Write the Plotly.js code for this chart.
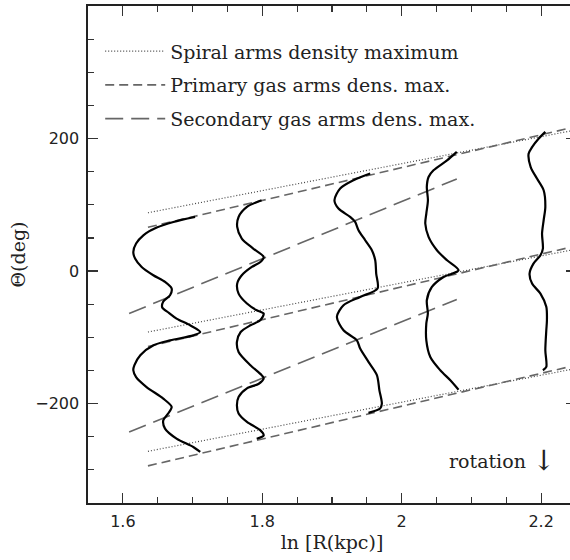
<!DOCTYPE html>
<html>
<head>
<meta charset="utf-8">
<script src="https://cdn.plot.ly/plotly-3.0.1.min.js"></script>
<style>html,body{margin:0;padding:0;overflow:hidden;background:#fff;width:570px;height:560px;}</style>
</head>
<body>
<div id="chart"></div>
<script>
// ---- data (ln R in kpc, theta in degrees) ----
// Spiral arms density maximum (dotted)
const spiralLnR = [1.636, 2.25];
const spiralArm1 = [88, 213];
const spiralArm2 = [-92, 33];
const spiralArm3 = [-272, -147];
// Primary gas arms density maximum (short dashed)
const primaryLnR = [1.636, 2.25];
const primaryArm1 = [66, 218];
const primaryArm2 = [-114, 38];
const primaryArm3 = [-294, -142];
// Secondary gas arms density maximum (long dashed)
const secondaryLnR = [1.609, 2.079];
const secondaryArm1 = [-64, 139];
const secondaryArm2 = [-243, -43];

// Gas density profiles (theta, lnR)
const prof1Theta = [81.7, 74.1, 65.6, 54, 41.5, 28.9, 18.9, 6.2, -6.3, -16.4, -26.4, -36.5, -46, -55, -63, -71.7, -81.8, -92, -97, -104.5, -112, -127, -142, -149.7, -160, -175, -192.5, -205, -215, -225, -237.7, -252.8, -265.5, -273];
const prof1LnR   = [1.7036, 1.6725, 1.6486, 1.6294, 1.619, 1.615, 1.6175, 1.627, 1.6437, 1.6605, 1.670, 1.6677, 1.658, 1.6565, 1.666, 1.677, 1.6964, 1.711, 1.701, 1.668, 1.644, 1.625, 1.6166, 1.615, 1.619, 1.634, 1.658, 1.670, 1.665, 1.658, 1.6605, 1.677, 1.701, 1.711];
const prof2Theta = [106.9, 96.8, 81.7, 66.6, 49, 34, 21.3, 13.7, 6.2, -6.3, -18.9, -34, -49, -59.2, -64.2, -74.3, -81.8, -92, -107, -122, -142, -157, -162, -170, -177, -190, -202.6, -215, -227.7, -240, -248, -253];
const prof2LnR   = [1.799, 1.778, 1.766, 1.764, 1.7706, 1.787, 1.802, 1.7973, 1.785, 1.7706, 1.764, 1.766, 1.778, 1.792, 1.802, 1.797, 1.783, 1.769, 1.7636, 1.766, 1.783, 1.799, 1.802, 1.795, 1.778, 1.766, 1.7636, 1.766, 1.778, 1.797, 1.802, 1.792];
const prof3Theta = [147.2, 137, 124.5, 106.9, 94.3, 81.7, 74.1, 61.6, 46.5, 31.4, 16.3, -3.8, -26.4, -39, -51.6, -69.3, -89.4, -104.5, -117, -137, -157, -180, -200, -207.5, -214];
const prof3LnR   = [1.9548, 1.9308, 1.9117, 1.9035, 1.9093, 1.926, 1.9332, 1.938, 1.9476, 1.9572, 1.962, 1.9634, 1.9653, 1.9404, 1.9165, 1.907, 1.9165, 1.9357, 1.9404, 1.9523, 1.9644, 1.968, 1.9715, 1.969, 1.9523];
const prof4Theta = [179.8, 167, 152, 142, 127, 106.9, 86.8, 71.7, 51.5, 31.4, 16.3, 1.2, -8.9, -24, -44, -64, -79, -104.5, -129.7, -149.7, -164.8, -179];
const prof4LnR   = [2.079, 2.065, 2.0456, 2.0385, 2.036, 2.0376, 2.0353, 2.0338, 2.0385, 2.0505, 2.065, 2.0815, 2.06, 2.0433, 2.036, 2.0375, 2.0353, 2.0353, 2.041, 2.0553, 2.0697, 2.0815];
const prof5Theta = [210, 200, 187, 177, 157, 139.6, 122, 96.8, 76.7, 56.6, 34, 23.8, 11.3, -3.8, -18.9, -34, -54, -74.3, -89.4, -119.5, -144.7, -149.7];
const prof5LnR   = [2.206, 2.1966, 2.187, 2.182, 2.185, 2.194, 2.2036, 2.206, 2.2036, 2.2013, 2.2025, 2.199, 2.189, 2.1834, 2.187, 2.199, 2.2074, 2.2083, 2.2074, 2.206, 2.2074, 2.2025];

const legendNames = ['Spiral arms density maximum', 'Primary gas arms dens. max.', 'Secondary gas arms dens. max.'];
const xTickVals = [1.6, 1.8, 2, 2.2];
const yTickVals = [-200, 0, 200];

// ---- helpers ----
function joinLines(xs, ys) {
  const X = [], Y = [];
  ys.forEach((y, i) => {
    if (i > 0) { X.push(null); Y.push(null); }
    X.push(...xs); Y.push(...y);
  });
  return {X, Y};
}
const sp = joinLines(spiralLnR, [spiralArm1, spiralArm2, spiralArm3]);
const pr = joinLines(primaryLnR, [primaryArm1, primaryArm2, primaryArm3]);
const se = joinLines(secondaryLnR, [secondaryArm1, secondaryArm2]);

const serif = 'DejaVu Serif, serif';
const traces = [
  {x: sp.X, y: sp.Y, mode: 'lines', name: legendNames[0], legendgroup: 'a', connectgaps: false,
   line: {color: '#444', width: 1.2, dash: '1px,2px'}, hoverinfo: 'skip'},
  {x: pr.X, y: pr.Y, mode: 'lines', name: legendNames[1], legendgroup: 'b', connectgaps: false,
   line: {color: '#666', width: 1.6, dash: '9px,5px'}, hoverinfo: 'skip'},
  {x: se.X, y: se.Y, mode: 'lines', name: legendNames[2], legendgroup: 'c', connectgaps: false,
   line: {color: '#666', width: 1.6, dash: '18px,8px'}, hoverinfo: 'skip'}
];
[[prof1LnR, prof1Theta], [prof2LnR, prof2Theta], [prof3LnR, prof3Theta], [prof4LnR, prof4Theta], [prof5LnR, prof5Theta]].forEach(p => {
  traces.push({x: p[0], y: p[1], mode: 'lines', showlegend: false,
    line: {color: '#000', width: 2.2, shape: 'spline', smoothing: 0.8}, hoverinfo: 'skip'});
});

const axisCommon = {
  showline: true, linecolor: '#222', linewidth: 1.6, mirror: 'ticks',
  ticks: 'inside', ticklen: 10, tickwidth: 1.2, tickcolor: '#333',
  showgrid: false, zeroline: false,
  tickfont: {family: 'DejaVu Sans, sans-serif', size: 16, color: '#222'}
};

const layout = {
  width: 580, height: 560,
  margin: {l: 88, r: 4.3, t: 6, b: 57},
  paper_bgcolor: '#fff', plot_bgcolor: '#fff',
  showlegend: true,
  legend: {x: 0.025, y: 0.947, xanchor: 'left', yanchor: 'top', bgcolor: 'rgba(0,0,0,0)',
    font: {family: serif, size: 19, color: '#222'}, tracegroupgap: 6, traceorder: 'grouped',
    itemwidth: 60},
  xaxis: Object.assign({}, axisCommon, {
    range: [1.55, 2.25], tickvals: xTickVals, ticklabelstandoff: 3,
    minor: {dtick: 0.05, tick0: 1.6, ticks: 'inside', ticklen: 6, tickcolor: '#333', tickwidth: 1.2},
    title: {text: 'ln [R(kpc)]', font: {family: serif, size: 19, color: '#222'}, standoff: 6}
  }),
  yaxis: Object.assign({}, axisCommon, {
    range: [-350, 400], tickvals: yTickVals, ticklabelstandoff: 4,
    minor: {dtick: 50, tick0: 0, ticks: 'inside', ticklen: 6, tickcolor: '#333', tickwidth: 1.2},
    title: {text: 'Θ(deg)', font: {family: serif, size: 19, color: '#222'}, standoff: 4}
  }),
  annotations: [
    {xref: 'paper', yref: 'paper', x: 0.902, y: 0.085, xanchor: 'right', yanchor: 'middle',
     text: 'rotation', showarrow: false, font: {family: serif, size: 19, color: '#222'}},
    {xref: 'paper', yref: 'paper', x: 0.933, y: 0.085, xanchor: 'center', yanchor: 'middle',
     text: '↓', showarrow: false, font: {family: serif, size: 28, color: '#222'}}
  ]
};

Plotly.newPlot('chart', traces, layout, {staticPlot: true, displayModeBar: false});
</script>
</body>
</html>
